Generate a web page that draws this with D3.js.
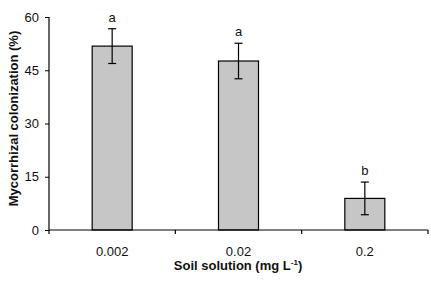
<!DOCTYPE html>
<html>
<head>
<meta charset="utf-8">
<script src="https://cdn.jsdelivr.net/npm/d3@7"></script>
<style>
  body { margin: 0; background: #fff; }
  svg text { font-family: "Liberation Sans Narrow", "Arial Narrow", "Liberation Sans", sans-serif; }
</style>
</head>
<body>
<div id="chart"></div>
<script>
const categories = ["0.002", "0.02", "0.2"];
const colonization = [51.8, 47.6, 8.9];
const errors = [4.9, 5.0, 4.6];
const letters = ["a", "a", "b"];
const yTicks = [0, 15, 30, 45, 60];

const margin = { top: 17, right: 3, bottom: 59, left: 49 };
const width = 431 - margin.left - margin.right;
const height = 289 - margin.top - margin.bottom;

const svg = d3.select("#chart")
    .append("svg")
    .attr("width", width + margin.left + margin.right)
    .attr("height", height + margin.top + margin.bottom)
    .append("g")
    .attr("transform", "translate(" + margin.left + "," + margin.top + ")");

const xScale = d3.scaleBand()
    .domain(categories)
    .range([0, width])
    .paddingInner(0)
    .paddingOuter(0);

const yScale = d3.scaleLinear()
    .domain([0, 60])
    .range([height, 0]);

const barWidth = 40;

// bars
svg.selectAll("rect.bar")
    .data(categories)
    .enter()
    .append("rect")
    .attr("class", "bar")
    .attr("x", (d) => xScale(d) + xScale.bandwidth() / 2 - barWidth / 2)
    .attr("y", (d, i) => yScale(colonization[i]))
    .attr("width", barWidth)
    .attr("height", (d, i) => height - yScale(colonization[i]))
    .attr("fill", "#c6c6c6")
    .attr("stroke", "#000")
    .attr("stroke-width", 1.2);

// error bars + letters
const errG = svg.append("g");
categories.forEach((c, i) => {
    const cx = xScale(c) + xScale.bandwidth() / 2;
    const top = yScale(colonization[i] + errors[i]);
    const bot = yScale(colonization[i] - errors[i]);
    errG.append("line")
        .attr("x1", cx).attr("x2", cx)
        .attr("y1", top).attr("y2", bot)
        .attr("stroke", "#000").attr("stroke-width", 1.2);
    [top, bot].forEach(y => {
        errG.append("line")
            .attr("x1", cx - 4).attr("x2", cx + 4)
            .attr("y1", y).attr("y2", y)
            .attr("stroke", "#000").attr("stroke-width", 1.2);
    });
    svg.append("text")
        .attr("x", cx)
        .attr("y", top - 7)
        .attr("text-anchor", "middle")
        .attr("font-size", "13px")
        .attr("fill", "#111")
        .text(letters[i]);
});

// y axis
const yAxis = svg.append("g")
    .call(d3.axisLeft(yScale).tickValues(yTicks).tickSize(4).tickPadding(6));
yAxis.select(".domain").attr("stroke", "#000").attr("stroke-width", 1.2)
    .attr("d", "M0," + yScale(60) + "V" + height);
yAxis.selectAll("text").attr("font-size", "13px").attr("fill", "#111")
    .attr("font-family", null);

// x axis: ticks at band boundaries
const xAxis = svg.append("g")
    .attr("transform", "translate(0," + height + ")");
xAxis.append("line")
    .attr("x1", 0).attr("x2", width)
    .attr("stroke", "#000").attr("stroke-width", 1.2);
const bounds = categories.map(c => xScale(c)).concat([width]);
xAxis.selectAll("line.tick")
    .data(bounds)
    .enter()
    .append("line")
    .attr("class", "tick")
    .attr("x1", d => d).attr("x2", d => d)
    .attr("y1", 0).attr("y2", 4)
    .attr("stroke", "#000").attr("stroke-width", 1.2);
xAxis.selectAll("text.lab")
    .data(categories)
    .enter()
    .append("text")
    .attr("class", "lab")
    .attr("x", d => xScale(d) + xScale.bandwidth() / 2)
    .attr("y", 26)
    .attr("text-anchor", "middle")
    .attr("font-size", "13px")
    .attr("fill", "#111")
    .text(d => d);

// axis titles
const xTitle = svg.append("text")
    .attr("x", 189)
    .attr("y", height + 40)
    .attr("text-anchor", "middle")
    .attr("font-size", "13px")
    .attr("font-weight", "bold")
    .attr("fill", "#111");
xTitle.append("tspan").text("Soil solution (mg L");
xTitle.append("tspan").attr("font-size", "8px").attr("dy", -5).text("-1");
xTitle.append("tspan").attr("dy", 5).text(")");

svg.append("text")
    .attr("transform", "rotate(-90)")
    .attr("x", -101.5)
    .attr("y", -31)
    .attr("text-anchor", "middle")
    .attr("font-size", "13px")
    .attr("font-weight", "bold")
    .attr("fill", "#111")
    .text("Mycorrhizal colonization (%)");
</script>
</body>
</html>
